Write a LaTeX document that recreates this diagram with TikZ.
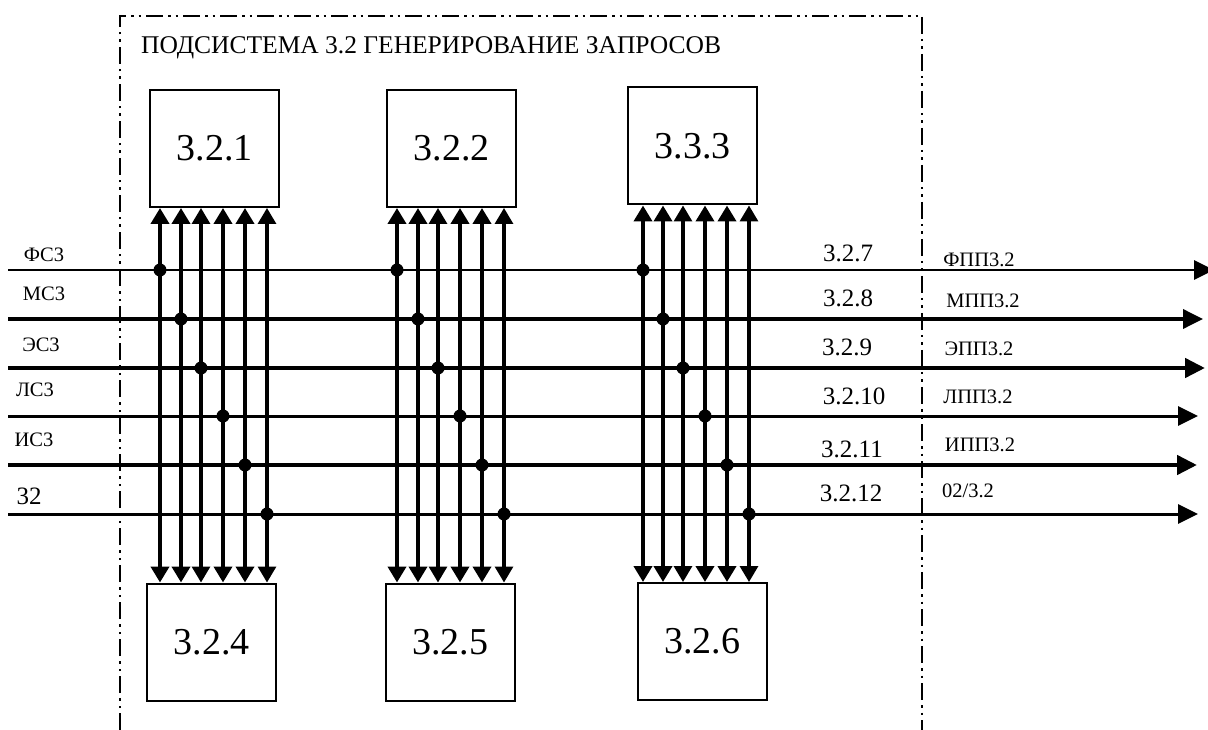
\documentclass[tikz,border=0pt]{standalone}
\usepackage{fontspec}
\setmainfont{Liberation Serif}
\usetikzlibrary{arrows.meta}
\begin{document}
\begin{tikzpicture}[x=1pt,y=-1pt,
  box/.style={draw,line width=2pt,minimum width=129pt,minimum height=117pt,inner sep=0pt,
    font=\fontsize{38}{40}\selectfont},
  frame/.style={line width=2.4pt,dash pattern=on 17pt off 5pt on 2.5pt off 5pt on 2.5pt off 5pt},
  flow/.style={line width=#1,-{Triangle[length=20pt,width=19pt]}},
  link/.style={line width=#1,{Triangle[length=16pt,width=18pt]}-{Triangle[length=16pt,width=18pt]}},
  tap/.style={circle,fill,inner sep=0pt,minimum size=13pt},
  sig/.style={inner sep=0pt,font=\fontsize{20.5}{22}\selectfont},
  num/.style={inner sep=0pt,font=\fontsize{25}{27}\selectfont},
  title/.style={inner sep=0pt,anchor=base west,font=\fontsize{25.5}{28}\selectfont},
]
\useasboundingbox (0,0) rectangle (1208,730);

% subsystem boundary (open at the bottom)
\coordinate (fl) at (120,730);
\coordinate (ftl) at (120,16);
\coordinate (ftr) at (922,16);
\coordinate (fr) at (922,730);
\draw[frame] (fl) -- (ftl) -- (ftr) -- (fr);
\node[title] (ttl) at (141,54) {ПОДСИСТЕМА 3.2 ГЕНЕРИРОВАНИЕ ЗАПРОСОВ};

% function blocks
\node[box] (t1) at (214.5,148.5) {3.2.1};
\node[box] (t2) at (451.5,148.5) {3.2.2};
\node[box] (t3) at (692.5,146)   {3.3.3};
\node[box] (b1) at (211.5,642)   {3.2.4};
\node[box] (b2) at (450,642)     {3.2.5};
\node[box] (b3) at (702,641.5)   {3.2.6};

% incoming / outgoing data lines
\foreach \y/\w/\xe [count=\k] in {270/2.8/1214,319/3.6/1203,368/4.5/1205,416/3.0/1198,465/4.5/1197,514/3.0/1198}{
  \coordinate (hin\k) at (8,\y);
  \coordinate (hout\k) at (\xe,\y);
  \draw[flow=\w pt] (hin\k) -- (hout\k);
}

% links between upper and lower blocks, tapped from the data lines
\foreach \g/\xs in {1/{160,181,201,223,245,267},2/{397,418,438,460,482,504},3/{643,663,683,705,727,749}}{
  \foreach \x [count=\i] in \xs {
    \pgfmathsetmacro\yy{{270,319,368,416,465,514}[\i-1]}
    \pgfmathsetmacro\ww{{4.0,4.5,3.3,3.9,4.5,3.3}[\i-1]}
    \coordinate (d\g\i) at (\x,\yy);
    \draw[link=\ww pt] (t\g.south -| d\g\i) -- (b\g.north -| d\g\i);
    \node[tap] (p\g\i) at (d\g\i) {};
  }
}

% input labels
\node[sig] (l1) at (44,255) {ФС3};
\node[sig] (l2) at (44,294) {МС3};
\node[sig] (l3) at (41,345) {ЭС3};
\node[sig] (l4) at (35,390) {ЛС3};
\node[sig] (l5) at (34,440) {ИС3};
\node[num] (l6) at (29,496) {32};

% line numbers
\node[num] (n1) at (848,253) {3.2.7};
\node[num] (n2) at (848,298) {3.2.8};
\node[num] (n3) at (847,347) {3.2.9};
\node[num] (n4) at (854,396) {3.2.10};
\node[num] (n5) at (852,449) {3.2.11};
\node[num] (n6) at (851,493) {3.2.12};

% output labels
\node[sig] (o1) at (979,260) {ФПП3.2};
\node[sig] (o2) at (983,301) {МПП3.2};
\node[sig] (o3) at (979,349) {ЭПП3.2};
\node[sig] (o4) at (978,397) {ЛПП3.2};
\node[sig] (o5) at (980,445) {ИПП3.2};
\node[sig] (o6) at (968,491) {02/3.2};
\end{tikzpicture}
\end{document}
